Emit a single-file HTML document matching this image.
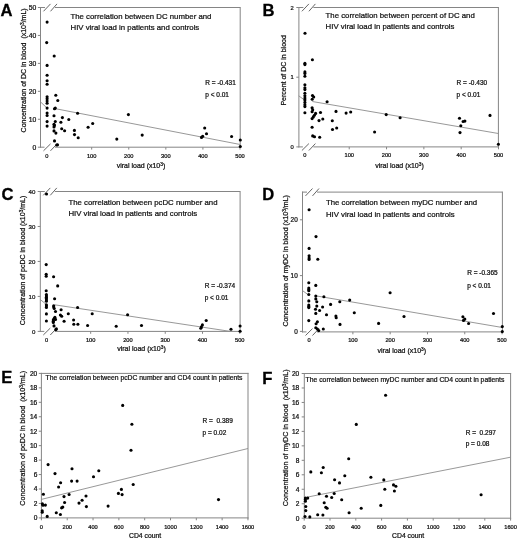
<!DOCTYPE html>
<html><head><meta charset="utf-8"><title>Figure</title>
<style>
html,body{margin:0;padding:0;background:#fff;}
body{width:520px;height:542px;overflow:hidden;font-family:"Liberation Sans", sans-serif;}
svg{display:block;will-change:transform;}
text{stroke:#111;stroke-width:0.24px;}
.big{stroke:#000;stroke-width:0.3px;}
</style></head><body>
<svg width="520" height="542" viewBox="0 0 520 542" font-family='"Liberation Sans", sans-serif'>
<rect width="520" height="542" fill="#fff"/>
<line x1="40.00" y1="7.50" x2="45.00" y2="7.50" stroke="#858585" stroke-width="1.0"/>
<line x1="55.00" y1="7.50" x2="240.20" y2="7.50" stroke="#858585" stroke-width="1.0"/>
<line x1="43.50" y1="11.30" x2="50.50" y2="3.90" stroke="#555" stroke-width="0.9"/>
<line x1="50.50" y1="11.30" x2="57.00" y2="3.90" stroke="#555" stroke-width="0.9"/>
<line x1="40.00" y1="147.20" x2="44.50" y2="147.20" stroke="#858585" stroke-width="1.0"/>
<line x1="55.00" y1="147.20" x2="240.70" y2="147.20" stroke="#858585" stroke-width="1.0"/>
<line x1="43.50" y1="150.80" x2="50.50" y2="143.90" stroke="#555" stroke-width="0.9"/>
<line x1="50.50" y1="150.80" x2="57.00" y2="143.90" stroke="#555" stroke-width="0.9"/>
<line x1="40.50" y1="7.00" x2="40.50" y2="147.70" stroke="#858585" stroke-width="1.0"/>
<line x1="240.20" y1="7.00" x2="240.20" y2="147.70" stroke="#858585" stroke-width="1.0"/>
<line x1="298.40" y1="7.50" x2="303.40" y2="7.50" stroke="#858585" stroke-width="1.0"/>
<line x1="313.40" y1="7.50" x2="498.40" y2="7.50" stroke="#858585" stroke-width="1.0"/>
<line x1="301.90" y1="11.30" x2="308.90" y2="3.90" stroke="#555" stroke-width="0.9"/>
<line x1="308.90" y1="11.30" x2="315.40" y2="3.90" stroke="#555" stroke-width="0.9"/>
<line x1="298.40" y1="146.90" x2="302.90" y2="146.90" stroke="#858585" stroke-width="1.0"/>
<line x1="313.40" y1="146.90" x2="498.90" y2="146.90" stroke="#858585" stroke-width="1.0"/>
<line x1="301.90" y1="150.50" x2="308.90" y2="143.60" stroke="#555" stroke-width="0.9"/>
<line x1="308.90" y1="150.50" x2="315.40" y2="143.60" stroke="#555" stroke-width="0.9"/>
<line x1="298.90" y1="7.00" x2="298.90" y2="147.40" stroke="#858585" stroke-width="1.0"/>
<line x1="498.40" y1="7.00" x2="498.40" y2="147.40" stroke="#858585" stroke-width="1.0"/>
<line x1="39.80" y1="191.50" x2="44.80" y2="191.50" stroke="#858585" stroke-width="1.0"/>
<line x1="54.80" y1="191.50" x2="240.10" y2="191.50" stroke="#858585" stroke-width="1.0"/>
<line x1="43.30" y1="195.30" x2="50.30" y2="187.90" stroke="#555" stroke-width="0.9"/>
<line x1="50.30" y1="195.30" x2="56.80" y2="187.90" stroke="#555" stroke-width="0.9"/>
<line x1="39.80" y1="331.40" x2="44.30" y2="331.40" stroke="#858585" stroke-width="1.0"/>
<line x1="54.80" y1="331.40" x2="240.60" y2="331.40" stroke="#858585" stroke-width="1.0"/>
<line x1="43.30" y1="335.00" x2="50.30" y2="328.10" stroke="#555" stroke-width="0.9"/>
<line x1="50.30" y1="335.00" x2="56.80" y2="328.10" stroke="#555" stroke-width="0.9"/>
<line x1="40.30" y1="191.00" x2="40.30" y2="331.90" stroke="#858585" stroke-width="1.0"/>
<line x1="240.10" y1="191.00" x2="240.10" y2="331.90" stroke="#858585" stroke-width="1.0"/>
<line x1="302.00" y1="192.10" x2="307.00" y2="192.10" stroke="#858585" stroke-width="1.0"/>
<line x1="317.00" y1="192.10" x2="502.40" y2="192.10" stroke="#858585" stroke-width="1.0"/>
<line x1="305.50" y1="195.90" x2="312.50" y2="188.50" stroke="#555" stroke-width="0.9"/>
<line x1="312.50" y1="195.90" x2="319.00" y2="188.50" stroke="#555" stroke-width="0.9"/>
<line x1="302.00" y1="331.90" x2="306.50" y2="331.90" stroke="#858585" stroke-width="1.0"/>
<line x1="317.00" y1="331.90" x2="502.90" y2="331.90" stroke="#858585" stroke-width="1.0"/>
<line x1="305.50" y1="335.50" x2="312.50" y2="328.60" stroke="#555" stroke-width="0.9"/>
<line x1="312.50" y1="335.50" x2="319.00" y2="328.60" stroke="#555" stroke-width="0.9"/>
<line x1="302.50" y1="191.60" x2="302.50" y2="332.40" stroke="#858585" stroke-width="1.0"/>
<line x1="502.40" y1="191.60" x2="502.40" y2="332.40" stroke="#858585" stroke-width="1.0"/>
<line x1="40.90" y1="373.40" x2="248.50" y2="373.40" stroke="#858585" stroke-width="1.0"/>
<line x1="40.90" y1="517.90" x2="248.50" y2="517.90" stroke="#858585" stroke-width="1.0"/>
<line x1="41.40" y1="372.90" x2="41.40" y2="518.40" stroke="#858585" stroke-width="1.0"/>
<line x1="248.00" y1="372.90" x2="248.00" y2="518.40" stroke="#858585" stroke-width="1.0"/>
<line x1="303.80" y1="373.50" x2="511.10" y2="373.50" stroke="#858585" stroke-width="1.0"/>
<line x1="303.80" y1="518.20" x2="511.10" y2="518.20" stroke="#858585" stroke-width="1.0"/>
<line x1="304.30" y1="373.00" x2="304.30" y2="518.70" stroke="#858585" stroke-width="1.0"/>
<line x1="510.60" y1="373.00" x2="510.60" y2="518.70" stroke="#858585" stroke-width="1.0"/>
<line x1="37.90" y1="147.20" x2="40.50" y2="147.20" stroke="#858585" stroke-width="1.0"/>
<text x="36.30" y="149.63" font-size="6.8" text-anchor="end" font-weight="normal" fill="#111" >0</text>
<line x1="37.90" y1="119.26" x2="40.50" y2="119.26" stroke="#858585" stroke-width="1.0"/>
<text x="36.30" y="121.69" font-size="6.8" text-anchor="end" font-weight="normal" fill="#111" >10</text>
<line x1="37.90" y1="91.32" x2="40.50" y2="91.32" stroke="#858585" stroke-width="1.0"/>
<text x="36.30" y="93.75" font-size="6.8" text-anchor="end" font-weight="normal" fill="#111" >20</text>
<line x1="37.90" y1="63.38" x2="40.50" y2="63.38" stroke="#858585" stroke-width="1.0"/>
<text x="36.30" y="65.81" font-size="6.8" text-anchor="end" font-weight="normal" fill="#111" >30</text>
<line x1="37.90" y1="35.44" x2="40.50" y2="35.44" stroke="#858585" stroke-width="1.0"/>
<text x="36.30" y="37.87" font-size="6.8" text-anchor="end" font-weight="normal" fill="#111" >40</text>
<line x1="37.90" y1="7.50" x2="40.50" y2="7.50" stroke="#858585" stroke-width="1.0"/>
<text x="36.30" y="9.93" font-size="6.8" text-anchor="end" font-weight="normal" fill="#111" >50</text>
<line x1="296.30" y1="146.90" x2="298.90" y2="146.90" stroke="#858585" stroke-width="1.0"/>
<text x="293.70" y="148.98" font-size="5.8" text-anchor="end" font-weight="normal" fill="#111" >0</text>
<line x1="296.30" y1="77.20" x2="298.90" y2="77.20" stroke="#858585" stroke-width="1.0"/>
<text x="293.70" y="79.28" font-size="5.8" text-anchor="end" font-weight="normal" fill="#111" >1</text>
<line x1="296.30" y1="7.50" x2="298.90" y2="7.50" stroke="#858585" stroke-width="1.0"/>
<text x="293.70" y="9.58" font-size="5.8" text-anchor="end" font-weight="normal" fill="#111" >2</text>
<line x1="37.70" y1="331.40" x2="40.30" y2="331.40" stroke="#858585" stroke-width="1.0"/>
<text x="35.40" y="333.58" font-size="6.1" text-anchor="end" font-weight="normal" fill="#111" >0</text>
<line x1="37.70" y1="296.42" x2="40.30" y2="296.42" stroke="#858585" stroke-width="1.0"/>
<text x="35.40" y="298.61" font-size="6.1" text-anchor="end" font-weight="normal" fill="#111" >10</text>
<line x1="37.70" y1="261.45" x2="40.30" y2="261.45" stroke="#858585" stroke-width="1.0"/>
<text x="35.40" y="263.63" font-size="6.1" text-anchor="end" font-weight="normal" fill="#111" >20</text>
<line x1="37.70" y1="226.47" x2="40.30" y2="226.47" stroke="#858585" stroke-width="1.0"/>
<text x="35.40" y="228.66" font-size="6.1" text-anchor="end" font-weight="normal" fill="#111" >30</text>
<line x1="37.70" y1="191.50" x2="40.30" y2="191.50" stroke="#858585" stroke-width="1.0"/>
<text x="35.40" y="193.68" font-size="6.1" text-anchor="end" font-weight="normal" fill="#111" >40</text>
<line x1="299.90" y1="331.40" x2="302.50" y2="331.40" stroke="#858585" stroke-width="1.0"/>
<text x="297.70" y="333.69" font-size="6.4" text-anchor="end" font-weight="normal" fill="#111" >0</text>
<line x1="299.90" y1="275.60" x2="302.50" y2="275.60" stroke="#858585" stroke-width="1.0"/>
<text x="297.70" y="277.89" font-size="6.4" text-anchor="end" font-weight="normal" fill="#111" >10</text>
<line x1="299.90" y1="219.80" x2="302.50" y2="219.80" stroke="#858585" stroke-width="1.0"/>
<text x="297.70" y="222.09" font-size="6.4" text-anchor="end" font-weight="normal" fill="#111" >20</text>
<line x1="38.80" y1="517.90" x2="41.40" y2="517.90" stroke="#858585" stroke-width="1.0"/>
<text x="37.30" y="520.26" font-size="6.6" text-anchor="end" font-weight="normal" fill="#111" >0</text>
<line x1="38.80" y1="503.45" x2="41.40" y2="503.45" stroke="#858585" stroke-width="1.0"/>
<text x="37.30" y="505.81" font-size="6.6" text-anchor="end" font-weight="normal" fill="#111" >2</text>
<line x1="38.80" y1="489.00" x2="41.40" y2="489.00" stroke="#858585" stroke-width="1.0"/>
<text x="37.30" y="491.36" font-size="6.6" text-anchor="end" font-weight="normal" fill="#111" >4</text>
<line x1="38.80" y1="474.55" x2="41.40" y2="474.55" stroke="#858585" stroke-width="1.0"/>
<text x="37.30" y="476.91" font-size="6.6" text-anchor="end" font-weight="normal" fill="#111" >6</text>
<line x1="38.80" y1="460.10" x2="41.40" y2="460.10" stroke="#858585" stroke-width="1.0"/>
<text x="37.30" y="462.46" font-size="6.6" text-anchor="end" font-weight="normal" fill="#111" >8</text>
<line x1="38.80" y1="445.65" x2="41.40" y2="445.65" stroke="#858585" stroke-width="1.0"/>
<text x="37.30" y="448.01" font-size="6.6" text-anchor="end" font-weight="normal" fill="#111" >10</text>
<line x1="38.80" y1="431.20" x2="41.40" y2="431.20" stroke="#858585" stroke-width="1.0"/>
<text x="37.30" y="433.56" font-size="6.6" text-anchor="end" font-weight="normal" fill="#111" >12</text>
<line x1="38.80" y1="416.75" x2="41.40" y2="416.75" stroke="#858585" stroke-width="1.0"/>
<text x="37.30" y="419.11" font-size="6.6" text-anchor="end" font-weight="normal" fill="#111" >14</text>
<line x1="38.80" y1="402.30" x2="41.40" y2="402.30" stroke="#858585" stroke-width="1.0"/>
<text x="37.30" y="404.66" font-size="6.6" text-anchor="end" font-weight="normal" fill="#111" >16</text>
<line x1="38.80" y1="387.85" x2="41.40" y2="387.85" stroke="#858585" stroke-width="1.0"/>
<text x="37.30" y="390.21" font-size="6.6" text-anchor="end" font-weight="normal" fill="#111" >18</text>
<line x1="38.80" y1="373.40" x2="41.40" y2="373.40" stroke="#858585" stroke-width="1.0"/>
<text x="37.30" y="375.76" font-size="6.6" text-anchor="end" font-weight="normal" fill="#111" >20</text>
<line x1="301.70" y1="518.20" x2="304.30" y2="518.20" stroke="#858585" stroke-width="1.0"/>
<text x="299.30" y="520.56" font-size="6.6" text-anchor="end" font-weight="normal" fill="#111" >0</text>
<line x1="301.70" y1="503.73" x2="304.30" y2="503.73" stroke="#858585" stroke-width="1.0"/>
<text x="299.30" y="506.09" font-size="6.6" text-anchor="end" font-weight="normal" fill="#111" >2</text>
<line x1="301.70" y1="489.26" x2="304.30" y2="489.26" stroke="#858585" stroke-width="1.0"/>
<text x="299.30" y="491.62" font-size="6.6" text-anchor="end" font-weight="normal" fill="#111" >4</text>
<line x1="301.70" y1="474.79" x2="304.30" y2="474.79" stroke="#858585" stroke-width="1.0"/>
<text x="299.30" y="477.15" font-size="6.6" text-anchor="end" font-weight="normal" fill="#111" >6</text>
<line x1="301.70" y1="460.32" x2="304.30" y2="460.32" stroke="#858585" stroke-width="1.0"/>
<text x="299.30" y="462.68" font-size="6.6" text-anchor="end" font-weight="normal" fill="#111" >8</text>
<line x1="301.70" y1="445.85" x2="304.30" y2="445.85" stroke="#858585" stroke-width="1.0"/>
<text x="299.30" y="448.21" font-size="6.6" text-anchor="end" font-weight="normal" fill="#111" >10</text>
<line x1="301.70" y1="431.38" x2="304.30" y2="431.38" stroke="#858585" stroke-width="1.0"/>
<text x="299.30" y="433.74" font-size="6.6" text-anchor="end" font-weight="normal" fill="#111" >12</text>
<line x1="301.70" y1="416.91" x2="304.30" y2="416.91" stroke="#858585" stroke-width="1.0"/>
<text x="299.30" y="419.27" font-size="6.6" text-anchor="end" font-weight="normal" fill="#111" >14</text>
<line x1="301.70" y1="402.44" x2="304.30" y2="402.44" stroke="#858585" stroke-width="1.0"/>
<text x="299.30" y="404.80" font-size="6.6" text-anchor="end" font-weight="normal" fill="#111" >16</text>
<line x1="301.70" y1="387.97" x2="304.30" y2="387.97" stroke="#858585" stroke-width="1.0"/>
<text x="299.30" y="390.33" font-size="6.6" text-anchor="end" font-weight="normal" fill="#111" >18</text>
<line x1="301.70" y1="373.50" x2="304.30" y2="373.50" stroke="#858585" stroke-width="1.0"/>
<text x="299.30" y="375.86" font-size="6.6" text-anchor="end" font-weight="normal" fill="#111" >20</text>
<line x1="91.68" y1="147.20" x2="91.68" y2="149.60" stroke="#858585" stroke-width="1.0"/>
<text x="91.68" y="157.54" font-size="5.7" text-anchor="middle" font-weight="normal" fill="#111" >100</text>
<line x1="128.76" y1="147.20" x2="128.76" y2="149.60" stroke="#858585" stroke-width="1.0"/>
<text x="128.76" y="157.54" font-size="5.7" text-anchor="middle" font-weight="normal" fill="#111" >200</text>
<line x1="165.84" y1="147.20" x2="165.84" y2="149.60" stroke="#858585" stroke-width="1.0"/>
<text x="165.84" y="157.54" font-size="5.7" text-anchor="middle" font-weight="normal" fill="#111" >300</text>
<line x1="202.92" y1="147.20" x2="202.92" y2="149.60" stroke="#858585" stroke-width="1.0"/>
<text x="202.92" y="157.54" font-size="5.7" text-anchor="middle" font-weight="normal" fill="#111" >400</text>
<line x1="240.00" y1="147.20" x2="240.00" y2="149.60" stroke="#858585" stroke-width="1.0"/>
<text x="240.00" y="157.54" font-size="5.7" text-anchor="middle" font-weight="normal" fill="#111" >500</text>
<text x="46.90" y="157.54" font-size="5.7" text-anchor="middle" font-weight="normal" fill="#111" >0</text>
<line x1="349.22" y1="146.90" x2="349.22" y2="149.30" stroke="#858585" stroke-width="1.0"/>
<text x="349.22" y="157.34" font-size="5.7" text-anchor="middle" font-weight="normal" fill="#111" >100</text>
<line x1="386.54" y1="146.90" x2="386.54" y2="149.30" stroke="#858585" stroke-width="1.0"/>
<text x="386.54" y="157.34" font-size="5.7" text-anchor="middle" font-weight="normal" fill="#111" >200</text>
<line x1="423.86" y1="146.90" x2="423.86" y2="149.30" stroke="#858585" stroke-width="1.0"/>
<text x="423.86" y="157.34" font-size="5.7" text-anchor="middle" font-weight="normal" fill="#111" >300</text>
<line x1="461.18" y1="146.90" x2="461.18" y2="149.30" stroke="#858585" stroke-width="1.0"/>
<text x="461.18" y="157.34" font-size="5.7" text-anchor="middle" font-weight="normal" fill="#111" >400</text>
<line x1="498.50" y1="146.90" x2="498.50" y2="149.30" stroke="#858585" stroke-width="1.0"/>
<text x="498.50" y="157.34" font-size="5.7" text-anchor="middle" font-weight="normal" fill="#111" >500</text>
<text x="304.80" y="157.34" font-size="5.7" text-anchor="middle" font-weight="normal" fill="#111" >0</text>
<line x1="90.68" y1="331.40" x2="90.68" y2="333.80" stroke="#858585" stroke-width="1.0"/>
<text x="90.68" y="341.74" font-size="5.7" text-anchor="middle" font-weight="normal" fill="#111" >100</text>
<line x1="127.96" y1="331.40" x2="127.96" y2="333.80" stroke="#858585" stroke-width="1.0"/>
<text x="127.96" y="341.74" font-size="5.7" text-anchor="middle" font-weight="normal" fill="#111" >200</text>
<line x1="165.24" y1="331.40" x2="165.24" y2="333.80" stroke="#858585" stroke-width="1.0"/>
<text x="165.24" y="341.74" font-size="5.7" text-anchor="middle" font-weight="normal" fill="#111" >300</text>
<line x1="202.52" y1="331.40" x2="202.52" y2="333.80" stroke="#858585" stroke-width="1.0"/>
<text x="202.52" y="341.74" font-size="5.7" text-anchor="middle" font-weight="normal" fill="#111" >400</text>
<line x1="239.80" y1="331.40" x2="239.80" y2="333.80" stroke="#858585" stroke-width="1.0"/>
<text x="239.80" y="341.74" font-size="5.7" text-anchor="middle" font-weight="normal" fill="#111" >500</text>
<text x="46.50" y="341.74" font-size="5.7" text-anchor="middle" font-weight="normal" fill="#111" >0</text>
<line x1="352.89" y1="331.90" x2="352.89" y2="334.30" stroke="#858585" stroke-width="1.0"/>
<text x="352.89" y="342.34" font-size="5.7" text-anchor="middle" font-weight="normal" fill="#111" >100</text>
<line x1="390.18" y1="331.90" x2="390.18" y2="334.30" stroke="#858585" stroke-width="1.0"/>
<text x="390.18" y="342.34" font-size="5.7" text-anchor="middle" font-weight="normal" fill="#111" >200</text>
<line x1="427.47" y1="331.90" x2="427.47" y2="334.30" stroke="#858585" stroke-width="1.0"/>
<text x="427.47" y="342.34" font-size="5.7" text-anchor="middle" font-weight="normal" fill="#111" >300</text>
<line x1="464.76" y1="331.90" x2="464.76" y2="334.30" stroke="#858585" stroke-width="1.0"/>
<text x="464.76" y="342.34" font-size="5.7" text-anchor="middle" font-weight="normal" fill="#111" >400</text>
<line x1="502.05" y1="331.90" x2="502.05" y2="334.30" stroke="#858585" stroke-width="1.0"/>
<text x="502.05" y="342.34" font-size="5.7" text-anchor="middle" font-weight="normal" fill="#111" >500</text>
<text x="309.00" y="342.34" font-size="5.7" text-anchor="middle" font-weight="normal" fill="#111" >0</text>
<line x1="41.40" y1="517.90" x2="41.40" y2="520.30" stroke="#858585" stroke-width="1.0"/>
<text x="41.40" y="528.64" font-size="5.7" text-anchor="middle" font-weight="normal" fill="#111" >0</text>
<line x1="67.22" y1="517.90" x2="67.22" y2="520.30" stroke="#858585" stroke-width="1.0"/>
<text x="67.22" y="528.64" font-size="5.7" text-anchor="middle" font-weight="normal" fill="#111" >200</text>
<line x1="93.04" y1="517.90" x2="93.04" y2="520.30" stroke="#858585" stroke-width="1.0"/>
<text x="93.04" y="528.64" font-size="5.7" text-anchor="middle" font-weight="normal" fill="#111" >400</text>
<line x1="118.86" y1="517.90" x2="118.86" y2="520.30" stroke="#858585" stroke-width="1.0"/>
<text x="118.86" y="528.64" font-size="5.7" text-anchor="middle" font-weight="normal" fill="#111" >600</text>
<line x1="144.68" y1="517.90" x2="144.68" y2="520.30" stroke="#858585" stroke-width="1.0"/>
<text x="144.68" y="528.64" font-size="5.7" text-anchor="middle" font-weight="normal" fill="#111" >800</text>
<line x1="170.50" y1="517.90" x2="170.50" y2="520.30" stroke="#858585" stroke-width="1.0"/>
<text x="170.50" y="528.64" font-size="5.7" text-anchor="middle" font-weight="normal" fill="#111" >1000</text>
<line x1="196.32" y1="517.90" x2="196.32" y2="520.30" stroke="#858585" stroke-width="1.0"/>
<text x="196.32" y="528.64" font-size="5.7" text-anchor="middle" font-weight="normal" fill="#111" >1200</text>
<line x1="222.14" y1="517.90" x2="222.14" y2="520.30" stroke="#858585" stroke-width="1.0"/>
<text x="222.14" y="528.64" font-size="5.7" text-anchor="middle" font-weight="normal" fill="#111" >1400</text>
<line x1="247.96" y1="517.90" x2="247.96" y2="520.30" stroke="#858585" stroke-width="1.0"/>
<text x="247.96" y="528.64" font-size="5.7" text-anchor="middle" font-weight="normal" fill="#111" >1600</text>
<line x1="304.20" y1="518.20" x2="304.20" y2="520.60" stroke="#858585" stroke-width="1.0"/>
<text x="304.20" y="528.74" font-size="5.7" text-anchor="middle" font-weight="normal" fill="#111" >0</text>
<line x1="330.00" y1="518.20" x2="330.00" y2="520.60" stroke="#858585" stroke-width="1.0"/>
<text x="330.00" y="528.74" font-size="5.7" text-anchor="middle" font-weight="normal" fill="#111" >200</text>
<line x1="355.80" y1="518.20" x2="355.80" y2="520.60" stroke="#858585" stroke-width="1.0"/>
<text x="355.80" y="528.74" font-size="5.7" text-anchor="middle" font-weight="normal" fill="#111" >400</text>
<line x1="381.60" y1="518.20" x2="381.60" y2="520.60" stroke="#858585" stroke-width="1.0"/>
<text x="381.60" y="528.74" font-size="5.7" text-anchor="middle" font-weight="normal" fill="#111" >600</text>
<line x1="407.40" y1="518.20" x2="407.40" y2="520.60" stroke="#858585" stroke-width="1.0"/>
<text x="407.40" y="528.74" font-size="5.7" text-anchor="middle" font-weight="normal" fill="#111" >800</text>
<line x1="433.20" y1="518.20" x2="433.20" y2="520.60" stroke="#858585" stroke-width="1.0"/>
<text x="433.20" y="528.74" font-size="5.7" text-anchor="middle" font-weight="normal" fill="#111" >1000</text>
<line x1="459.00" y1="518.20" x2="459.00" y2="520.60" stroke="#858585" stroke-width="1.0"/>
<text x="459.00" y="528.74" font-size="5.7" text-anchor="middle" font-weight="normal" fill="#111" >1200</text>
<line x1="484.80" y1="518.20" x2="484.80" y2="520.60" stroke="#858585" stroke-width="1.0"/>
<text x="484.80" y="528.74" font-size="5.7" text-anchor="middle" font-weight="normal" fill="#111" >1400</text>
<line x1="510.60" y1="518.20" x2="510.60" y2="520.60" stroke="#858585" stroke-width="1.0"/>
<text x="510.60" y="528.74" font-size="5.7" text-anchor="middle" font-weight="normal" fill="#111" >1600</text>
<text x="0.40" y="16.00" font-size="16.6" text-anchor="start" font-weight="bold" fill="#000" class="big">A</text>
<text x="262.40" y="16.00" font-size="16.6" text-anchor="start" font-weight="bold" fill="#000" class="big">B</text>
<text x="1.60" y="200.30" font-size="16.6" text-anchor="start" font-weight="bold" fill="#000" class="big">C</text>
<text x="262.30" y="200.20" font-size="16.6" text-anchor="start" font-weight="bold" fill="#000" class="big">D</text>
<text x="1.30" y="383.40" font-size="16.6" text-anchor="start" font-weight="bold" fill="#000" class="big">E</text>
<text x="262.20" y="383.70" font-size="16.6" text-anchor="start" font-weight="bold" fill="#000" class="big">F</text>
<text x="70.50" y="18.80" font-size="8.1" fill="#111" textLength="140.91" lengthAdjust="spacingAndGlyphs">The correlation between DC number and</text>
<text x="70.50" y="30.40" font-size="8.1" fill="#111" textLength="128.77" lengthAdjust="spacingAndGlyphs">HIV viral load in patients and controls</text>
<text x="325.60" y="17.90" font-size="8.1" fill="#111" textLength="149.16" lengthAdjust="spacingAndGlyphs">The correlation between percent of DC and</text>
<text x="325.60" y="29.00" font-size="8.1" fill="#111" textLength="128.77" lengthAdjust="spacingAndGlyphs">HIV viral load in patients and controls</text>
<text x="68.40" y="204.60" font-size="8.1" fill="#111" textLength="149.15" lengthAdjust="spacingAndGlyphs">The correlation between pcDC number and</text>
<text x="68.40" y="215.90" font-size="8.1" fill="#111" textLength="128.77" lengthAdjust="spacingAndGlyphs">HIV viral load in patients and controls</text>
<text x="325.90" y="205.20" font-size="8.1" fill="#111" textLength="151.31" lengthAdjust="spacingAndGlyphs">The correlation between myDC number and</text>
<text x="325.90" y="216.70" font-size="8.1" fill="#111" textLength="128.77" lengthAdjust="spacingAndGlyphs">HIV viral load in patients and controls</text>
<text x="45.60" y="380.20" font-size="7.1" fill="#111" textLength="196.94" lengthAdjust="spacingAndGlyphs">The correlation between pcDC number and CD4 count in patients</text>
<text x="305.60" y="381.90" font-size="7.1" fill="#111" textLength="198.82" lengthAdjust="spacingAndGlyphs">The correlation between myDC number and CD4 count in patients</text>
<text x="205.30" y="85.00" font-size="6.5" text-anchor="start" font-weight="normal" fill="#111" >R = -0.431</text>
<text x="205.30" y="96.90" font-size="6.5" text-anchor="start" font-weight="normal" fill="#111" >p &lt; 0.01</text>
<text x="456.60" y="85.00" font-size="6.5" text-anchor="start" font-weight="normal" fill="#111" >R = -0.430</text>
<text x="456.60" y="96.90" font-size="6.5" text-anchor="start" font-weight="normal" fill="#111" >p &lt; 0.01</text>
<text x="204.70" y="287.70" font-size="6.5" text-anchor="start" font-weight="normal" fill="#111" >R = -0.374</text>
<text x="204.70" y="300.00" font-size="6.5" text-anchor="start" font-weight="normal" fill="#111" >p &lt; 0.01</text>
<text x="467.20" y="275.40" font-size="6.5" text-anchor="start" font-weight="normal" fill="#111" >R = -0.365</text>
<text x="467.20" y="287.50" font-size="6.5" text-anchor="start" font-weight="normal" fill="#111" >p &lt; 0.01</text>
<text x="202.60" y="422.90" font-size="6.5" text-anchor="start" font-weight="normal" fill="#111" xml:space="preserve">R =  0.389</text>
<text x="202.60" y="435.10" font-size="6.5" text-anchor="start" font-weight="normal" fill="#111" >p = 0.02</text>
<text x="465.70" y="434.60" font-size="6.5" text-anchor="start" font-weight="normal" fill="#111" xml:space="preserve">R =  0.297</text>
<text x="465.70" y="446.30" font-size="6.5" text-anchor="start" font-weight="normal" fill="#111" >p = 0.08</text>
<text x="116.70" y="167.90" font-size="7.0" fill="#111">viral load (x10<tspan font-size="4.8" dy="-2.1">3</tspan><tspan dy="2.1">)</tspan></text>
<text x="375.20" y="167.60" font-size="7.0" fill="#111">viral load (x10<tspan font-size="4.8" dy="-2.1">3</tspan><tspan dy="2.1">)</tspan></text>
<text x="117.20" y="350.60" font-size="7.0" fill="#111">viral load (x10<tspan font-size="4.8" dy="-2.1">3</tspan><tspan dy="2.1">)</tspan></text>
<text x="377.50" y="353.10" font-size="7.0" fill="#111">viral load (x10<tspan font-size="4.8" dy="-2.1">3</tspan><tspan dy="2.1">)</tspan></text>
<text x="129.00" y="537.80" font-size="6.8" text-anchor="start" font-weight="normal" fill="#111" >CD4 count</text>
<text x="392.10" y="537.80" font-size="6.8" text-anchor="start" font-weight="normal" fill="#111" >CD4 count</text>
<text transform="translate(25.60,132.40) rotate(-90)" font-size="7.0" fill="#111" xml:space="preserve">Concentration of DC in blood  (x10<tspan font-size="4.8" dy="-2.1">3</tspan><tspan dy="2.1">/mL)</tspan></text>
<text transform="translate(286.00,105.60) rotate(-90)" font-size="7.0" fill="#111" xml:space="preserve">Percent of DC in blood</text>
<text transform="translate(25.20,325.20) rotate(-90)" font-size="7.0" fill="#111" xml:space="preserve">Concentration of pcDC in blood (x10<tspan font-size="4.8" dy="-2.1">3</tspan><tspan dy="2.1">/mL)</tspan></text>
<text transform="translate(288.30,326.60) rotate(-90)" font-size="7.0" fill="#111" xml:space="preserve">Concentration of myDC in blood (x10<tspan font-size="4.8" dy="-2.1">3</tspan><tspan dy="2.1">/mL)</tspan></text>
<text transform="translate(25.30,505.70) rotate(-90)" font-size="7.2" fill="#111" xml:space="preserve">Concentration of pcDC in blood  (x10<tspan font-size="4.8" dy="-2.1">3</tspan><tspan dy="2.1">/mL)</tspan></text>
<text transform="translate(287.70,506.20) rotate(-90)" font-size="7.2" fill="#111" xml:space="preserve">Concentration of myDC in blood  (x10<tspan font-size="4.8" dy="-2.1">3</tspan><tspan dy="2.1">/mL)</tspan></text>
<line x1="40.50" y1="101.90" x2="47.00" y2="108.00" stroke="#8c8c8c" stroke-width="0.9"/>
<line x1="54.50" y1="108.50" x2="240.20" y2="144.50" stroke="#8c8c8c" stroke-width="0.9"/>
<line x1="298.70" y1="95.80" x2="305.00" y2="100.40" stroke="#8c8c8c" stroke-width="0.9"/>
<line x1="312.30" y1="101.50" x2="498.40" y2="133.50" stroke="#8c8c8c" stroke-width="0.9"/>
<line x1="40.30" y1="299.60" x2="46.30" y2="304.40" stroke="#8c8c8c" stroke-width="0.9"/>
<line x1="54.60" y1="304.80" x2="230.40" y2="331.40" stroke="#8c8c8c" stroke-width="0.9"/>
<line x1="302.50" y1="290.60" x2="308.80" y2="295.20" stroke="#8c8c8c" stroke-width="0.9"/>
<line x1="316.80" y1="296.00" x2="502.40" y2="327.50" stroke="#8c8c8c" stroke-width="0.9"/>
<line x1="41.40" y1="499.40" x2="248.00" y2="448.50" stroke="#8c8c8c" stroke-width="0.9"/>
<line x1="304.30" y1="497.70" x2="510.60" y2="457.20" stroke="#8c8c8c" stroke-width="0.9"/>
<g fill="#000">
<circle cx="47.10" cy="22.10" r="1.55"/>
<circle cx="46.70" cy="42.60" r="1.55"/>
<circle cx="54.20" cy="56.00" r="1.55"/>
<circle cx="47.10" cy="65.40" r="1.55"/>
<circle cx="47.10" cy="75.20" r="1.55"/>
<circle cx="47.10" cy="80.70" r="1.55"/>
<circle cx="47.10" cy="84.30" r="1.55"/>
<circle cx="47.10" cy="96.80" r="1.55"/>
<circle cx="47.10" cy="98.80" r="1.55"/>
<circle cx="47.10" cy="101.10" r="1.55"/>
<circle cx="47.10" cy="103.30" r="1.55"/>
<circle cx="47.10" cy="108.10" r="1.55"/>
<circle cx="47.10" cy="113.00" r="1.55"/>
<circle cx="47.10" cy="115.50" r="1.55"/>
<circle cx="47.10" cy="121.60" r="1.55"/>
<circle cx="47.10" cy="126.10" r="1.55"/>
<circle cx="55.80" cy="95.20" r="1.55"/>
<circle cx="57.80" cy="100.50" r="1.55"/>
<circle cx="54.50" cy="108.80" r="1.55"/>
<circle cx="55.30" cy="108.10" r="1.55"/>
<circle cx="54.00" cy="115.80" r="1.55"/>
<circle cx="55.30" cy="121.50" r="1.55"/>
<circle cx="54.00" cy="124.20" r="1.55"/>
<circle cx="54.40" cy="125.40" r="1.55"/>
<circle cx="54.00" cy="126.90" r="1.55"/>
<circle cx="54.00" cy="130.90" r="1.55"/>
<circle cx="55.90" cy="133.10" r="1.55"/>
<circle cx="54.50" cy="140.90" r="1.55"/>
<circle cx="56.70" cy="145.00" r="1.55"/>
<circle cx="57.50" cy="144.80" r="1.55"/>
<circle cx="62.40" cy="117.60" r="1.55"/>
<circle cx="68.80" cy="119.50" r="1.55"/>
<circle cx="60.90" cy="122.20" r="1.55"/>
<circle cx="61.70" cy="128.80" r="1.55"/>
<circle cx="64.60" cy="130.80" r="1.55"/>
<circle cx="74.40" cy="130.40" r="1.55"/>
<circle cx="74.50" cy="134.60" r="1.55"/>
<circle cx="78.20" cy="137.80" r="1.55"/>
<circle cx="77.60" cy="113.30" r="1.55"/>
<circle cx="88.10" cy="127.20" r="1.55"/>
<circle cx="92.70" cy="123.50" r="1.55"/>
<circle cx="128.40" cy="114.60" r="1.55"/>
<circle cx="116.80" cy="139.10" r="1.55"/>
<circle cx="142.20" cy="135.10" r="1.55"/>
<circle cx="204.70" cy="128.00" r="1.55"/>
<circle cx="206.50" cy="133.80" r="1.55"/>
<circle cx="202.70" cy="136.20" r="1.55"/>
<circle cx="201.50" cy="137.40" r="1.55"/>
<circle cx="231.60" cy="136.50" r="1.55"/>
<circle cx="240.30" cy="140.00" r="1.55"/>
<circle cx="240.30" cy="146.50" r="1.55"/>
<circle cx="305.00" cy="33.30" r="1.55"/>
<circle cx="312.40" cy="59.70" r="1.55"/>
<circle cx="304.90" cy="63.20" r="1.55"/>
<circle cx="304.90" cy="64.60" r="1.55"/>
<circle cx="304.90" cy="71.90" r="1.55"/>
<circle cx="304.90" cy="73.50" r="1.55"/>
<circle cx="304.90" cy="76.20" r="1.55"/>
<circle cx="304.90" cy="84.70" r="1.55"/>
<circle cx="304.90" cy="87.80" r="1.55"/>
<circle cx="304.90" cy="89.60" r="1.55"/>
<circle cx="304.90" cy="93.20" r="1.55"/>
<circle cx="304.90" cy="95.70" r="1.55"/>
<circle cx="304.90" cy="98.10" r="1.55"/>
<circle cx="304.90" cy="99.90" r="1.55"/>
<circle cx="304.90" cy="102.40" r="1.55"/>
<circle cx="304.90" cy="104.80" r="1.55"/>
<circle cx="304.90" cy="106.60" r="1.55"/>
<circle cx="304.90" cy="112.80" r="1.55"/>
<circle cx="312.50" cy="95.60" r="1.55"/>
<circle cx="313.70" cy="97.00" r="1.55"/>
<circle cx="312.20" cy="99.20" r="1.55"/>
<circle cx="312.10" cy="107.70" r="1.55"/>
<circle cx="312.70" cy="109.80" r="1.55"/>
<circle cx="312.10" cy="111.70" r="1.55"/>
<circle cx="315.60" cy="113.40" r="1.55"/>
<circle cx="314.40" cy="115.20" r="1.55"/>
<circle cx="313.30" cy="116.90" r="1.55"/>
<circle cx="312.10" cy="118.60" r="1.55"/>
<circle cx="320.50" cy="112.50" r="1.55"/>
<circle cx="322.80" cy="119.00" r="1.55"/>
<circle cx="319.00" cy="120.60" r="1.55"/>
<circle cx="312.10" cy="127.30" r="1.55"/>
<circle cx="312.70" cy="135.90" r="1.55"/>
<circle cx="314.50" cy="136.80" r="1.55"/>
<circle cx="319.70" cy="137.20" r="1.55"/>
<circle cx="327.10" cy="101.70" r="1.55"/>
<circle cx="336.00" cy="111.40" r="1.55"/>
<circle cx="346.10" cy="113.10" r="1.55"/>
<circle cx="350.70" cy="112.00" r="1.55"/>
<circle cx="332.30" cy="120.70" r="1.55"/>
<circle cx="332.50" cy="129.50" r="1.55"/>
<circle cx="336.70" cy="128.00" r="1.55"/>
<circle cx="374.60" cy="132.00" r="1.55"/>
<circle cx="386.20" cy="114.60" r="1.55"/>
<circle cx="400.10" cy="117.70" r="1.55"/>
<circle cx="459.50" cy="118.20" r="1.55"/>
<circle cx="463.10" cy="121.50" r="1.55"/>
<circle cx="464.90" cy="121.10" r="1.55"/>
<circle cx="460.80" cy="125.70" r="1.55"/>
<circle cx="460.00" cy="132.60" r="1.55"/>
<circle cx="490.00" cy="115.40" r="1.55"/>
<circle cx="498.40" cy="144.20" r="1.55"/>
<circle cx="46.50" cy="194.00" r="1.55"/>
<circle cx="46.20" cy="264.60" r="1.55"/>
<circle cx="46.20" cy="274.20" r="1.55"/>
<circle cx="46.20" cy="276.30" r="1.55"/>
<circle cx="53.60" cy="276.80" r="1.55"/>
<circle cx="57.70" cy="285.90" r="1.55"/>
<circle cx="46.20" cy="290.70" r="1.55"/>
<circle cx="46.40" cy="294.60" r="1.55"/>
<circle cx="46.40" cy="296.00" r="1.55"/>
<circle cx="46.40" cy="297.30" r="1.55"/>
<circle cx="46.40" cy="298.60" r="1.55"/>
<circle cx="46.40" cy="300.00" r="1.55"/>
<circle cx="46.40" cy="301.30" r="1.55"/>
<circle cx="46.40" cy="304.80" r="1.55"/>
<circle cx="46.40" cy="306.10" r="1.55"/>
<circle cx="46.40" cy="307.50" r="1.55"/>
<circle cx="46.40" cy="313.90" r="1.55"/>
<circle cx="46.40" cy="321.00" r="1.55"/>
<circle cx="54.60" cy="298.80" r="1.55"/>
<circle cx="53.70" cy="305.70" r="1.55"/>
<circle cx="53.70" cy="307.00" r="1.55"/>
<circle cx="54.20" cy="308.50" r="1.55"/>
<circle cx="55.50" cy="311.50" r="1.55"/>
<circle cx="54.90" cy="317.20" r="1.55"/>
<circle cx="54.20" cy="318.50" r="1.55"/>
<circle cx="55.50" cy="319.40" r="1.55"/>
<circle cx="53.30" cy="319.90" r="1.55"/>
<circle cx="53.30" cy="321.20" r="1.55"/>
<circle cx="53.30" cy="322.50" r="1.55"/>
<circle cx="54.00" cy="325.90" r="1.55"/>
<circle cx="56.40" cy="328.90" r="1.55"/>
<circle cx="55.80" cy="329.60" r="1.55"/>
<circle cx="61.10" cy="309.70" r="1.55"/>
<circle cx="68.30" cy="313.70" r="1.55"/>
<circle cx="60.40" cy="315.00" r="1.55"/>
<circle cx="61.70" cy="316.30" r="1.55"/>
<circle cx="64.10" cy="321.20" r="1.55"/>
<circle cx="73.60" cy="320.00" r="1.55"/>
<circle cx="73.80" cy="324.30" r="1.55"/>
<circle cx="77.90" cy="324.30" r="1.55"/>
<circle cx="77.60" cy="307.50" r="1.55"/>
<circle cx="92.20" cy="313.70" r="1.55"/>
<circle cx="127.60" cy="314.80" r="1.55"/>
<circle cx="87.60" cy="325.50" r="1.55"/>
<circle cx="116.20" cy="326.30" r="1.55"/>
<circle cx="141.50" cy="325.50" r="1.55"/>
<circle cx="206.20" cy="320.50" r="1.55"/>
<circle cx="202.40" cy="324.90" r="1.55"/>
<circle cx="201.40" cy="326.90" r="1.55"/>
<circle cx="200.80" cy="328.30" r="1.55"/>
<circle cx="231.00" cy="329.20" r="1.55"/>
<circle cx="240.10" cy="326.00" r="1.55"/>
<circle cx="240.10" cy="331.20" r="1.55"/>
<circle cx="309.10" cy="209.70" r="1.55"/>
<circle cx="316.00" cy="236.60" r="1.55"/>
<circle cx="309.10" cy="248.40" r="1.55"/>
<circle cx="309.10" cy="255.80" r="1.55"/>
<circle cx="309.10" cy="257.90" r="1.55"/>
<circle cx="309.10" cy="259.40" r="1.55"/>
<circle cx="317.80" cy="259.20" r="1.55"/>
<circle cx="308.80" cy="282.80" r="1.55"/>
<circle cx="308.80" cy="288.00" r="1.55"/>
<circle cx="308.80" cy="289.50" r="1.55"/>
<circle cx="308.80" cy="290.80" r="1.55"/>
<circle cx="308.80" cy="294.50" r="1.55"/>
<circle cx="308.80" cy="300.90" r="1.55"/>
<circle cx="308.80" cy="305.00" r="1.55"/>
<circle cx="308.80" cy="306.60" r="1.55"/>
<circle cx="308.80" cy="307.60" r="1.55"/>
<circle cx="308.80" cy="320.60" r="1.55"/>
<circle cx="315.80" cy="285.40" r="1.55"/>
<circle cx="315.80" cy="296.00" r="1.55"/>
<circle cx="315.80" cy="298.90" r="1.55"/>
<circle cx="316.80" cy="301.80" r="1.55"/>
<circle cx="316.80" cy="306.10" r="1.55"/>
<circle cx="315.50" cy="309.20" r="1.55"/>
<circle cx="315.80" cy="313.40" r="1.55"/>
<circle cx="317.40" cy="321.80" r="1.55"/>
<circle cx="316.10" cy="323.80" r="1.55"/>
<circle cx="315.80" cy="327.70" r="1.55"/>
<circle cx="317.40" cy="329.00" r="1.55"/>
<circle cx="318.70" cy="330.60" r="1.55"/>
<circle cx="323.90" cy="296.70" r="1.55"/>
<circle cx="330.60" cy="304.40" r="1.55"/>
<circle cx="322.60" cy="307.00" r="1.55"/>
<circle cx="319.60" cy="310.50" r="1.55"/>
<circle cx="326.50" cy="314.70" r="1.55"/>
<circle cx="335.90" cy="316.00" r="1.55"/>
<circle cx="336.20" cy="317.70" r="1.55"/>
<circle cx="339.80" cy="301.80" r="1.55"/>
<circle cx="340.00" cy="324.40" r="1.55"/>
<circle cx="323.30" cy="329.00" r="1.55"/>
<circle cx="349.70" cy="300.10" r="1.55"/>
<circle cx="390.10" cy="292.70" r="1.55"/>
<circle cx="354.30" cy="312.80" r="1.55"/>
<circle cx="404.00" cy="316.50" r="1.55"/>
<circle cx="378.60" cy="323.40" r="1.55"/>
<circle cx="493.50" cy="313.50" r="1.55"/>
<circle cx="462.90" cy="316.80" r="1.55"/>
<circle cx="464.80" cy="319.10" r="1.55"/>
<circle cx="463.50" cy="320.40" r="1.55"/>
<circle cx="468.60" cy="323.50" r="1.55"/>
<circle cx="502.30" cy="326.60" r="1.55"/>
<circle cx="502.30" cy="331.60" r="1.55"/>
<circle cx="48.10" cy="464.60" r="1.55"/>
<circle cx="55.00" cy="473.60" r="1.55"/>
<circle cx="72.00" cy="468.70" r="1.55"/>
<circle cx="98.80" cy="470.70" r="1.55"/>
<circle cx="93.50" cy="476.80" r="1.55"/>
<circle cx="60.60" cy="482.80" r="1.55"/>
<circle cx="71.60" cy="481.10" r="1.55"/>
<circle cx="77.10" cy="481.10" r="1.55"/>
<circle cx="58.60" cy="487.00" r="1.55"/>
<circle cx="43.40" cy="494.20" r="1.55"/>
<circle cx="69.10" cy="494.50" r="1.55"/>
<circle cx="64.00" cy="496.60" r="1.55"/>
<circle cx="86.00" cy="496.00" r="1.55"/>
<circle cx="82.10" cy="500.20" r="1.55"/>
<circle cx="64.60" cy="502.50" r="1.55"/>
<circle cx="79.00" cy="503.10" r="1.55"/>
<circle cx="86.40" cy="506.60" r="1.55"/>
<circle cx="42.40" cy="503.90" r="1.55"/>
<circle cx="43.00" cy="505.30" r="1.55"/>
<circle cx="45.40" cy="505.10" r="1.55"/>
<circle cx="62.80" cy="507.10" r="1.55"/>
<circle cx="61.60" cy="507.90" r="1.55"/>
<circle cx="42.20" cy="510.70" r="1.55"/>
<circle cx="42.20" cy="512.20" r="1.55"/>
<circle cx="56.30" cy="512.70" r="1.55"/>
<circle cx="60.40" cy="514.50" r="1.55"/>
<circle cx="47.20" cy="516.40" r="1.55"/>
<circle cx="122.70" cy="405.40" r="1.55"/>
<circle cx="131.90" cy="424.30" r="1.55"/>
<circle cx="131.00" cy="450.30" r="1.55"/>
<circle cx="133.20" cy="484.50" r="1.55"/>
<circle cx="121.40" cy="489.40" r="1.55"/>
<circle cx="118.40" cy="493.40" r="1.55"/>
<circle cx="122.10" cy="494.60" r="1.55"/>
<circle cx="108.10" cy="506.10" r="1.55"/>
<circle cx="218.50" cy="499.60" r="1.55"/>
<circle cx="385.60" cy="395.30" r="1.55"/>
<circle cx="356.30" cy="424.40" r="1.55"/>
<circle cx="348.70" cy="458.70" r="1.55"/>
<circle cx="323.20" cy="467.50" r="1.55"/>
<circle cx="310.80" cy="471.90" r="1.55"/>
<circle cx="321.40" cy="472.80" r="1.55"/>
<circle cx="344.80" cy="475.80" r="1.55"/>
<circle cx="334.60" cy="479.70" r="1.55"/>
<circle cx="339.50" cy="482.90" r="1.55"/>
<circle cx="319.20" cy="493.80" r="1.55"/>
<circle cx="334.20" cy="493.50" r="1.55"/>
<circle cx="326.50" cy="496.20" r="1.55"/>
<circle cx="331.70" cy="497.50" r="1.55"/>
<circle cx="305.40" cy="498.10" r="1.55"/>
<circle cx="307.70" cy="498.10" r="1.55"/>
<circle cx="305.40" cy="499.60" r="1.55"/>
<circle cx="305.40" cy="501.20" r="1.55"/>
<circle cx="341.70" cy="499.70" r="1.55"/>
<circle cx="324.20" cy="502.70" r="1.55"/>
<circle cx="325.80" cy="507.30" r="1.55"/>
<circle cx="327.10" cy="508.30" r="1.55"/>
<circle cx="305.80" cy="506.50" r="1.55"/>
<circle cx="305.80" cy="510.60" r="1.55"/>
<circle cx="361.20" cy="508.30" r="1.55"/>
<circle cx="349.10" cy="512.80" r="1.55"/>
<circle cx="317.70" cy="514.80" r="1.55"/>
<circle cx="322.90" cy="515.00" r="1.55"/>
<circle cx="305.00" cy="516.50" r="1.55"/>
<circle cx="309.80" cy="516.90" r="1.55"/>
<circle cx="370.90" cy="477.30" r="1.55"/>
<circle cx="383.80" cy="479.90" r="1.55"/>
<circle cx="393.50" cy="484.90" r="1.55"/>
<circle cx="395.90" cy="486.30" r="1.55"/>
<circle cx="384.80" cy="489.20" r="1.55"/>
<circle cx="394.40" cy="491.00" r="1.55"/>
<circle cx="380.80" cy="505.40" r="1.55"/>
<circle cx="481.10" cy="494.80" r="1.55"/>
</g>
</svg>
</body></html>
